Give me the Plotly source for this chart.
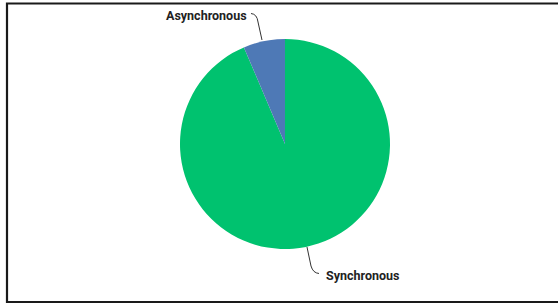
import plotly.graph_objects as go

W, H = 558, 304
labels = ["Synchronous", "Asynchronous"]
values = [93.6, 6.4]
colors = ["#00C26F", "#4E79B6"]

def px(x):
    return x / W

def py(y):
    return 1 - y / H

cx, cy, r = 285, 144, 105

fig = go.Figure(go.Pie(
    labels=labels, values=values, sort=False, direction="clockwise",
    rotation=0, textinfo="none", hoverinfo="label+percent",
    marker=dict(colors=colors, line=dict(width=0)),
    domain=dict(x=[px(cx - r), px(cx + r)], y=[py(cy + r), py(cy - r)]),
    showlegend=False,
))

def path(points):
    s = ""
    for cmd, pts in points:
        s += cmd + " " + " ".join(f"{px(a):.5f},{py(b):.5f}" for a, b in pts) + " "
    return s.strip()

shapes = [
    dict(type="rect", xref="paper", yref="paper", x0=px(7), x1=px(570), y0=py(302), y1=py(3.5),
         line=dict(color="#1a1a1a", width=2.2), fillcolor="rgba(0,0,0,0)"),
    dict(type="path", xref="paper", yref="paper",
         path=path([("M", [(251, 13.5)]), ("Q", [(257, 14), (258, 22)]), ("L", [(262, 40)])]),
         line=dict(color="#333", width=1)),
    dict(type="path", xref="paper", yref="paper",
         path=path([("M", [(307, 247)]), ("L", [(311, 266)]), ("Q", [(313, 273), (319, 273.5)])]),
         line=dict(color="#333", width=1)),
]

annotations = [
    dict(text="<b>Asynchronous</b>", x=px(249), y=py(16), xref="paper", yref="paper",
         xanchor="right", yanchor="middle", showarrow=False,
         font=dict(family="Roboto", size=12.5, color="#222")),
    dict(text="<b>Synchronous</b>", x=px(324), y=py(275), xref="paper", yref="paper",
         xanchor="left", yanchor="middle", showarrow=False,
         font=dict(family="Roboto", size=12.5, color="#222")),
]

fig.update_layout(width=W, height=H, margin=dict(l=0, r=0, t=0, b=0),
                  paper_bgcolor="white", plot_bgcolor="white",
                  shapes=shapes, annotations=annotations)
fig.write_html("out.html", config=dict(displayModeBar=False),
               post_script="document.body.style.margin='0';document.body.style.overflow='hidden';")
